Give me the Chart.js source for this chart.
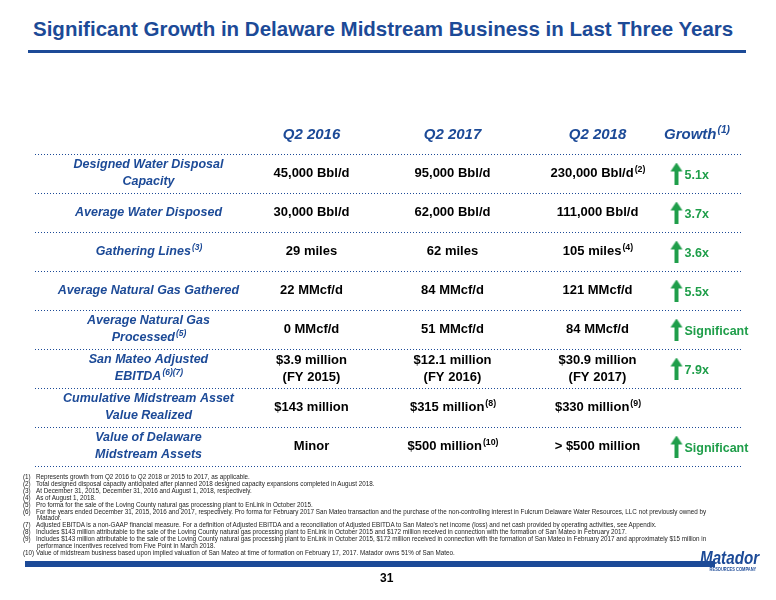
<!DOCTYPE html>
<html><head><meta charset="utf-8">
<script src="https://cdn.jsdelivr.net/npm/chart.js@4"></script>
<style>
body{margin:0;width:776px;height:600px;background:#fff;font-family:"Liberation Sans",Arial,sans-serif;position:relative;overflow:hidden}
#title{position:absolute;left:33px;top:17px;font-size:20.5px;font-weight:bold;color:#1c4a97}
#tl{position:absolute;left:28px;top:50px;width:718px;height:3px;background:#1c4a97}
#c{position:absolute;left:0;top:0}
#notes{position:absolute;left:23px;top:474px;width:700px;font-family:"Liberation Sans Narrow","Liberation Sans",Arial,sans-serif;font-size:6.3px;line-height:6.9px;color:#222}
#notes div{padding-left:14px;text-indent:-14px}
#bar{position:absolute;left:25px;top:561px;width:690px;height:6px;background:#1c4a97}
#pg{position:absolute;left:380px;top:571px;font-size:12px;font-weight:bold}
#logo{position:absolute;left:700px;top:547px;font-size:19px;font-weight:bold;font-style:italic;color:#1c4a97;transform:scaleX(0.8);transform-origin:left}
#logo small{display:block;font-size:5px;font-style:normal;margin-left:12px;margin-top:-3px}
</style></head><body>
<div id="title">Significant Growth in Delaware Midstream Business in Last Three Years</div>
<div id="tl"></div>
<canvas id="c" width="776" height="600"></canvas>
<div id="notes">
<div>(1)&nbsp;&nbsp;&nbsp;Represents growth from Q2 2016 to Q2 2018 or 2015 to 2017, as applicable.</div>
<div>(2)&nbsp;&nbsp;&nbsp;Total designed disposal capacity anticipated after planned 2018 designed capacity expansions completed in August 2018.</div>
<div>(3)&nbsp;&nbsp;&nbsp;At December 31, 2015, December 31, 2016 and August 1, 2018, respectively.</div>
<div>(4)&nbsp;&nbsp;&nbsp;As of August 1, 2018.</div>
<div>(5)&nbsp;&nbsp;&nbsp;Pro forma for the sale of the Loving County natural gas processing plant to EnLink in October 2015.</div>
<div>(6)&nbsp;&nbsp;&nbsp;For the years ended December 31, 2015, 2016 and 2017, respectively. Pro forma for February 2017 San Mateo transaction and the purchase of the non-controlling interest in Fulcrum Delaware Water Resources, LLC not previously owned by Matador.</div>
<div>(7)&nbsp;&nbsp;&nbsp;Adjusted EBITDA is a non-GAAP financial measure. For a definition of Adjusted EBITDA and a reconciliation of Adjusted EBITDA to San Mateo's net income (loss) and net cash provided by operating activities, see Appendix.</div>
<div>(8)&nbsp;&nbsp;&nbsp;Includes $143 million attributable to the sale of the Loving County natural gas processing plant to EnLink in October 2015 and $172 million received in connection with the formation of San Mateo in February 2017.</div>
<div>(9)&nbsp;&nbsp;&nbsp;Includes $143 million attributable to the sale of the Loving County natural gas processing plant to EnLink in October 2015, $172 million received in connection with the formation of San Mateo in February 2017 and approximately $15 million in performance incentives received from Five Point in March 2018.</div>
<div>(10) Value of midstream business based upon implied valuation of San Mateo at time of formation on February 17, 2017. Matador owns 51% of San Mateo.</div>
</div>
<div id="bar"></div>
<div id="pg">31</div>
<div id="logo">Matador<small>RESOURCES COMPANY</small></div>
<script>
const columns = ["label","Q2 2016","Q2 2017","Q2 2018","Growth"];
const headers = ["","Q2 2016","Q2 2017","Q2 2018","Growth^(1)"];
const rows = ["hdr","r1","r2","r3","r4","r5","r6","r7","r8"];
const rowLabels = ["","Designed Water Disposal|Capacity","Average Water Disposed","Gathering Lines^(3)","Average Natural Gas Gathered","Average Natural Gas|Processed^(5)","San Mateo Adjusted|EBITDA^(6)(7)","Cumulative Midstream Asset|Value Realized","Value of Delaware|Midstream Assets"];
const q2016 = ["","45,000 Bbl/d","30,000 Bbl/d","29 miles","22 MMcf/d","0 MMcf/d","$3.9 million|(FY 2015)","$143 million","Minor"];
const q2017 = ["","95,000 Bbl/d","62,000 Bbl/d","62 miles","84 MMcf/d","51 MMcf/d","$12.1 million|(FY 2016)","$315 million^(8)","$500 million^(10)"];
const q2018 = ["","230,000 Bbl/d^(2)","111,000 Bbl/d","105 miles^(4)","121 MMcf/d","84 MMcf/d","$30.9 million|(FY 2017)","$330 million^(9)","> $500 million"];
const growth = ["","5.1x","3.7x","3.6x","5.5x","Significant","7.9x","","Significant"];

const colShift=[0,26,30,38,0];
const green="#1f9e4a", navy="#1c4a97";
const arr=document.createElement('canvas');arr.width=60;arr.height=22;
(function(){const g=arr.getContext('2d');g.fillStyle=green;g.beginPath();
g.moveTo(10,0);g.lineTo(16,9);g.lineTo(12,9);g.lineTo(12,22);g.lineTo(8,22);g.lineTo(8,9);g.lineTo(4,9);g.closePath();g.fill();})();

function drawRich(ctx,s,x,y,size,style,align){
  const parts=s.split('^');const main=parts[0],sup=parts[1]||'';
  const font=style+' '+size+'px "Liberation Sans"';
  const sf=style+' '+(size*0.68).toFixed(1)+'px "Liberation Sans"';
  ctx.font=font;const w1=ctx.measureText(main).width;
  ctx.font=sf;const w2=ctx.measureText(sup).width;
  let x0=align==='left'?x:x-(w1+w2)/2;
  ctx.textAlign='left';ctx.textBaseline='middle';
  ctx.font=font;ctx.fillText(main,x0,y);
  ctx.font=sf;ctx.fillText(sup,x0+w1+1,y-4);
}
const tablePlugin={id:'tbl',afterDatasetsDraw(ch){
  const ctx=ch.ctx,xs=ch.scales.x,ys=ch.scales.y;ctx.save();
  ctx.strokeStyle=navy;ctx.lineWidth=1;ctx.setLineDash([1,2]);
  const step=ys.getPixelForValue(1)-ys.getPixelForValue(0);
  for(let i=0;i<rows.length;i++){
    const yb=Math.round(ys.getPixelForValue(i)+step/2)+0.5;
    ctx.beginPath();ctx.moveTo(35,yb);ctx.lineTo(742,yb);ctx.stroke();
  }
  ctx.setLineDash([]);
  const cols=[rowLabels,q2016,q2017,q2018];
  rows.forEach((r,i)=>{
    const y=ys.getPixelForValue(i);
    if(i===0){
      ctx.fillStyle=navy;
      headers.forEach((h,c)=>{if(!h)return;drawRich(ctx,h,xs.getPixelForValue(c)+colShift[c],y,15,'italic bold','center');});
      return;
    }
    cols.forEach((arrc,c)=>{
      const lines=arrc[i].split('|');
      ctx.fillStyle=c===0?navy:'#000';
      lines.forEach((t,k)=>drawRich(ctx,t,xs.getPixelForValue(c)+colShift[c],y+(k-(lines.length-1)/2)*17,c===0?12.5:13,c===0?'italic bold':'bold','center'));
    });
    if(growth[i]){ctx.fillStyle=green;drawRich(ctx,growth[i],xs.getPixelForValue(4)-12,y+2,12.5,'bold','left');}
  });
  ctx.restore();
}};
const pts=rows.map((r,i)=>growth[i]?{x:"Growth",y:r}:null).filter(Boolean);
new Chart(document.getElementById('c'),{
  type:'scatter',
  data:{datasets:[{data:pts,pointStyle:arr,pointRadius:10}]},
  options:{responsive:false,animation:false,events:[],
    layout:{padding:{top:115,bottom:134,left:80,right:8}},
    plugins:{legend:{display:false},tooltip:{enabled:false}},
    scales:{
      x:{type:'category',labels:columns,offset:true,display:false},
      y:{type:'category',labels:rows,offset:true,display:false}
    }},
  plugins:[tablePlugin]
});
</script>
</body></html>
